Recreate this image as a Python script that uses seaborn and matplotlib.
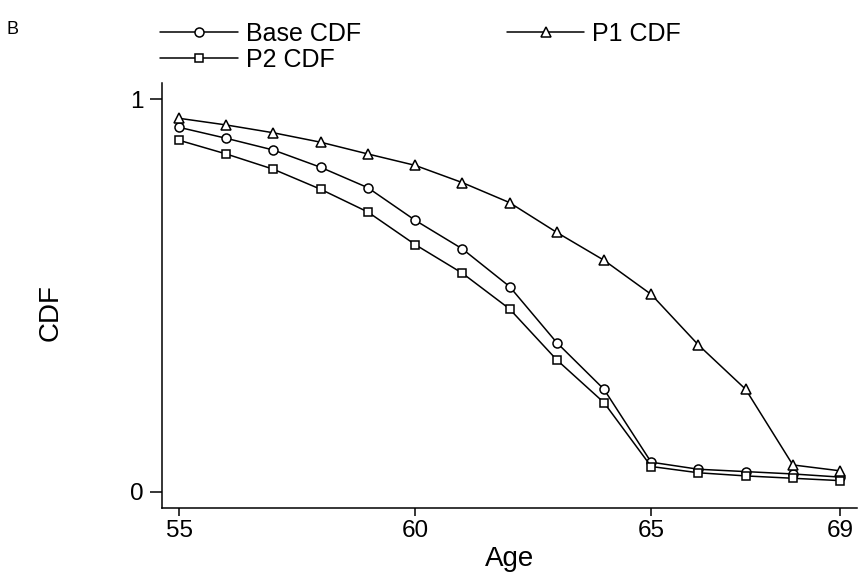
import matplotlib
matplotlib.use("Agg")
import matplotlib.pyplot as plt
import seaborn as sns
import pandas as pd

ages = list(range(55, 70))
base_cdf = [0.929, 0.901, 0.871, 0.827, 0.775, 0.692, 0.619, 0.523, 0.380, 0.261,
            0.075, 0.057, 0.051, 0.045, 0.037]
p1_cdf = [0.952, 0.935, 0.915, 0.891, 0.861, 0.832, 0.788, 0.737, 0.661, 0.590,
          0.503, 0.374, 0.261, 0.068, 0.053]
p2_cdf = [0.896, 0.861, 0.822, 0.771, 0.713, 0.630, 0.557, 0.466, 0.336, 0.227,
          0.064, 0.048, 0.040, 0.034, 0.028]
series_names = ["Base CDF", "P1 CDF", "P2 CDF"]
series_markers = ["o", "^", "s"]
x_ticks = [55, 60, 65, 69]
y_ticks = [0, 1]

sns.set_style("ticks")
plt.rcParams["font.family"] = ["Liberation Sans", "DejaVu Sans"]
plt.rcParams["text.color"] = "black"
plt.rcParams["axes.labelcolor"] = "black"
plt.rcParams["xtick.color"] = "black"
plt.rcParams["ytick.color"] = "black"

fig = plt.figure(figsize=(8.65, 5.8), dpi=100)
ax = fig.add_axes([0.1873, 0.1247, 0.8035, 0.7322])

for name, vals, mk in zip(series_names, [base_cdf, p1_cdf, p2_cdf], series_markers):
    df = pd.DataFrame({"Age": ages, "CDF": vals})
    sns.lineplot(data=df, x="Age", y="CDF", ax=ax, color="black", linewidth=1.1,
                 marker=mk, markersize=6.5 if mk != "s" else 6,
                 markerfacecolor="white", markeredgecolor="black",
                 markeredgewidth=1.1, label=name, legend=False)

ax.set_xlim(54.64, 69.36)
ax.set_ylim(-0.041, 1.042)
ax.set_xticks(x_ticks)
ax.set_yticks(y_ticks)
ax.set_xticklabels([str(t) for t in x_ticks])
ax.set_yticklabels([str(t) for t in y_ticks])
ax.tick_params(axis="x", length=6, width=1.1, pad=3, labelsize=17.5,
               color="black", labelcolor="black")
ax.tick_params(axis="y", length=8.5, width=1.1, pad=5, labelsize=17.5,
               color="black", labelcolor="black")
for s in ["top", "right"]:
    ax.spines[s].set_visible(False)
for s in ["left", "bottom"]:
    ax.spines[s].set_linewidth(1.1)
    ax.spines[s].set_color("black")

ax.set_xlabel("Age", fontsize=20, labelpad=3, color="black")
ax.set_ylabel("CDF", fontsize=20, color="black")
ax.yaxis.set_label_coords(-0.142, 0.46)

handles, labels = ax.get_legend_handles_labels()
hmap = dict(zip(labels, handles))
order = ["Base CDF", "P2 CDF", "P1 CDF"]
leg = fig.legend([hmap[k] for k in order], order, loc="upper left",
                 bbox_to_anchor=(0.185, 0.962), ncol=2, frameon=False,
                 fontsize=18, borderpad=0, borderaxespad=0, labelspacing=0.08,
                 handlelength=3.1, handletextpad=0.32, columnspacing=5.85,
                 labelcolor="black")

fig.text(0.007, 1 - 34 / 580, "B", fontsize=13, va="baseline", ha="left",
         color="black")

fig.savefig("out.png", dpi=100)
